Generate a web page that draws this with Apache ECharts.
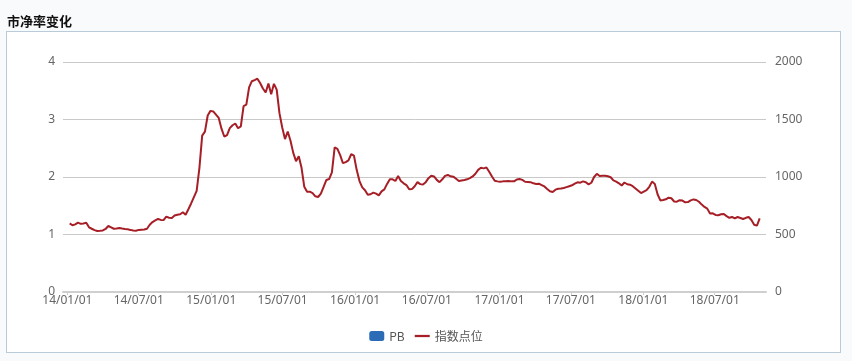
<!DOCTYPE html>
<html>
<head>
<meta charset="utf-8">
<script src="https://cdn.jsdelivr.net/npm/echarts@6/dist/echarts.min.js"></script>
<style>
  html, body { margin: 0; padding: 0; background: #f9fafb; }
  #box { position: absolute; left: 6px; top: 31px; width: 833px; height: 320px; border: 1px solid #b9cad8; background: #ffffff; }
  #chart { position: absolute; left: 0; top: 0; width: 852px; height: 361px; }
</style>
</head>
<body>
<div id="box"></div>
<div id="chart"></div>
<script>
// ---- data ----
const chartTitle = '市净率变化';
const seriesNames = ['PB', '指数点位'];
const pbValues = [];               // PB series has no visible marks in the reference
const firstWeek = [2014, 1, 7];    // first weekly observation (Y, M, D)
const indexValues = [
  597,580,588,603,593,596,603,563,550,538,
  530,532,535,548,574,562,550,552,557,552,
  548,545,540,534,533,540,542,544,550,585,
  608,622,635,627,625,655,646,644,665,672,
  676,693,672,720,770,825,880,1080,1360,1395,
  1535,1575,1570,1542,1514,1420,1352,1365,1425,1450,
  1465,1424,1440,1617,1630,1780,1833,1843,1855,1817,
  1770,1735,1812,1720,1810,1760,1555,1430,1330,1395,
  1315,1210,1138,1180,1080,915,872,872,860,832,
  826,855,915,974,982,1040,1258,1245,1190,1120,
  1130,1145,1198,1185,1060,965,910,885,846,850,
  864,855,840,875,892,940,980,980,965,1008,
  966,945,930,893,895,920,955,938,935,955,
  990,1010,1005,975,955,980,1010,1018,1006,1003,
  985,966,970,974,980,990,1005,1028,1062,1080,
  1075,1082,1045,1005,968,962,959,962,963,965,
  962,962,978,983,975,959,957,955,945,940,
  942,930,918,895,876,870,890,898,900,904,
  912,920,928,942,954,951,962,955,936,950,
  1000,1028,1009,1010,1011,1006,998,970,960,945,
  926,952,937,933,920,900,880,860,873,885,
  915,960,940,850,796,800,806,820,815,787,
  785,798,795,780,782,797,805,800,785,760,
  740,725,682,684,670,668,676,678,660,645,
  652,641,652,644,635,645,652,626,585,577,640
];
const xMinDate = [2013, 12, 21];
const xMaxDate = [2018, 11, 8];
const xLabelMonths = [1, 7];       // tick labels on the 1st of Jan and Jul
const leftTicks = [0, 1, 2, 3, 4];
const rightTicks = [0, 500, 1000, 1500, 2000];

// ---- build ----
const pad = n => (n < 10 ? '0' : '') + n;
const toTime = a => new Date(a[0], a[1] - 1, a[2]).getTime();
const indexData = indexValues.map((v, k) => {
  const t = new Date(firstWeek[0], firstWeek[1] - 1, firstWeek[2] + 7 * k).getTime();
  return [t, v];
});
const labelFont = "'Noto Sans', 'Noto Sans CJK SC', sans-serif";

const chart = echarts.init(document.getElementById('chart'), null, { renderer: 'canvas' });
chart.setOption({
  backgroundColor: 'transparent',
  animation: false,
  graphic: [{
    type: 'text', left: 7, top: 15,
    style: { text: chartTitle, fill: '#111', font: "bold 13px 'Noto Sans CJK SC', sans-serif" }
  }],
  legend: {
    top: 325, left: 'center',
    itemWidth: 15, itemHeight: 10, itemGap: 10,
    textStyle: { color: '#555', fontSize: 12, fontFamily: "'Noto Sans CJK SC', sans-serif" },
    data: [
      { name: seriesNames[0], icon: 'roundRect' },
      { name: seriesNames[1], icon: 'path://M0,0 L20,0 L20,3 L0,3 Z' }
    ]
  },
  grid: { left: 63, right: 86, top: 62, bottom: 69, containLabel: false },
  xAxis: {
    type: 'time',
    min: toTime(xMinDate), max: toTime(xMaxDate),
    splitNumber: 8,
    axisLine: { show: true, lineStyle: { color: '#cfcfcf', width: 2 } },
    axisTick: { show: true, length: 3, lineStyle: { color: '#cfcfcf' } },
    splitLine: { show: false },
    axisLabel: {
      color: '#666', fontSize: 12, margin: 3, fontFamily: labelFont,
      showMinLabel: false, showMaxLabel: false,
      formatter: function (val) {
        const d = new Date(val);
        if (d.getDate() !== 1 || xLabelMonths.indexOf(d.getMonth() + 1) < 0) return '';
        return pad(d.getFullYear() % 100) + '/' + pad(d.getMonth() + 1) + '/' + pad(d.getDate());
      }
    }
  },
  yAxis: [{
    type: 'value', min: leftTicks[0], max: leftTicks[leftTicks.length - 1], interval: leftTicks[1] - leftTicks[0],
    axisLine: { show: false }, axisTick: { show: false },
    axisLabel: { color: '#666', fontSize: 12, margin: 8, fontFamily: labelFont },
    splitLine: { show: true, lineStyle: { color: '#c9c9c9', width: 1 } }
  }, {
    type: 'value', min: rightTicks[0], max: rightTicks[rightTicks.length - 1], interval: rightTicks[1] - rightTicks[0],
    axisLine: { show: false }, axisTick: { show: false },
    axisLabel: { color: '#666', fontSize: 12, margin: 9, fontFamily: labelFont, formatter: v => String(v) },
    splitLine: { show: false }
  }],
  series: [{
    name: seriesNames[0], type: 'line', yAxisIndex: 0,
    symbol: 'none', showSymbol: false,
    itemStyle: { color: '#2c6cb6' },
    data: pbValues
  }, {
    name: seriesNames[1], type: 'line', yAxisIndex: 1,
    symbol: 'none', showSymbol: false,
    itemStyle: { color: '#a61e26' },
    lineStyle: { color: '#a61e26', width: 2 },
    data: indexData
  }]
});
</script>
</body>
</html>
